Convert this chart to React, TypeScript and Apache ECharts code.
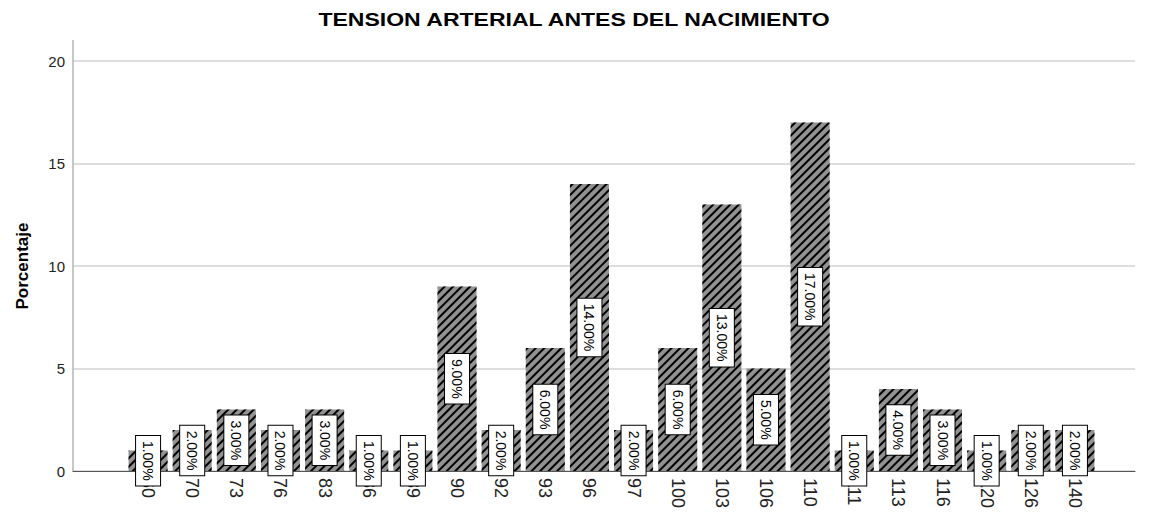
import React, { useEffect, useRef } from "react";
import * as echarts from "echarts";

const categories = ["60", "70", "73", "76", "83", "86", "89", "90", "92", "93", "96", "97", "100", "103", "106", "110", "111", "113", "116", "120", "126", "140"];
const percentages = [1, 2, 3, 2, 3, 1, 1, 9, 2, 6, 14, 2, 6, 13, 5, 17, 1, 4, 3, 1, 2, 2];
const yTicks = [0, 5, 10, 15, 20];
const titleText = "TENSION ARTERIAL ANTES DEL NACIMIENTO";
const yAxisTitle = "Porcentaje";

export default function App() {
  const ref = useRef<HTMLDivElement>(null);
  useEffect(() => {
    document.body.style.margin = "0";
    const chart = echarts.init(ref.current!, null, { renderer: "svg" });
    const font = "Arial, 'Liberation Sans', sans-serif";
    chart.setOption({
      animation: false,
      backgroundColor: "#ffffff",
      textStyle: { fontFamily: font },
      grid: [
        { left: 73, right: 14, top: 61, bottom: 45 },
        { left: 126, right: 52, top: 61, bottom: 45 },
      ],
      xAxis: [
        {
          gridIndex: 0,
          type: "value",
          min: 0,
          max: 1,
          axisLine: { show: true, onZero: false, lineStyle: { color: "#555", width: 1 } },
          axisTick: { show: false },
          axisLabel: { show: false },
          splitLine: { show: false },
        },
        {
          gridIndex: 1,
          type: "category",
          data: categories,
          axisLine: { show: false },
          axisTick: { show: false },
          axisLabel: {
            rotate: -90,
            fontSize: 18,
            color: "#222",
            margin: 7,
            interval: 0,
            fontFamily: font,
          },
        },
      ],
      yAxis: [
        {
          gridIndex: 0,
          type: "value",
          min: yTicks[0],
          max: yTicks[yTicks.length - 1],
          interval: 5,
          name: yAxisTitle,
          nameLocation: "middle",
          nameGap: 42,
          nameRotate: 90,
          nameTextStyle: { fontSize: 17, fontWeight: "bold", color: "#000", fontFamily: font },
          axisLine: { show: true, lineStyle: { color: "#b4b4b4", width: 1.5 } },
          axisTick: { show: false },
          axisLabel: { fontSize: 15, color: "#222", margin: 8, fontFamily: font },
          splitLine: { show: true, lineStyle: { color: "#d2d2d2", width: 1.5 } },
        },
        {
          gridIndex: 1,
          type: "value",
          min: yTicks[0],
          max: yTicks[yTicks.length - 1],
          interval: 5,
          show: false,
          splitLine: { show: false },
        },
      ],
      graphic: [
        {
          type: "line",
          shape: { x1: 73, y1: 40, x2: 73, y2: 61 },
          style: { stroke: "#b4b4b4", lineWidth: 1.5 },
        },
        {
          type: "text",
          x: 574,
          y: 19,
          scaleX: 1.28,
          style: {
            text: titleText,
            fontSize: 18,
            fontWeight: "bold",
            fontFamily: font,
            fill: "#000",
            align: "center",
            verticalAlign: "middle",
          },
        },
      ],
      series: [
        {
          type: "bar",
          xAxisIndex: 1,
          yAxisIndex: 1,
          data: percentages,
          barWidth: 39,
          itemStyle: {
            color: "#919191",
            decal: {
              symbol: "rect",
              symbolSize: 1,
              color: "#000",
              dashArrayX: [1, 0],
              dashArrayY: [2, 4],
              rotation: -Math.PI / 4,
            },
          },
          label: {
            show: true,
            position: "inside",
            rotate: -90,
            formatter: (p: any) => p.value.toFixed(2) + "%",
            fontSize: 14,
            lineHeight: 14,
            color: "#000",
            backgroundColor: "#fff",
            borderColor: "#000",
            borderWidth: 1,
            padding: [5, 5],
            fontFamily: font,
          },
        },
      ],
    });
    return () => chart.dispose();
  }, []);
  return <div ref={ref} style={{ position: "fixed", left: 0, top: 0, width: 1149, height: 516 }} />;
}
